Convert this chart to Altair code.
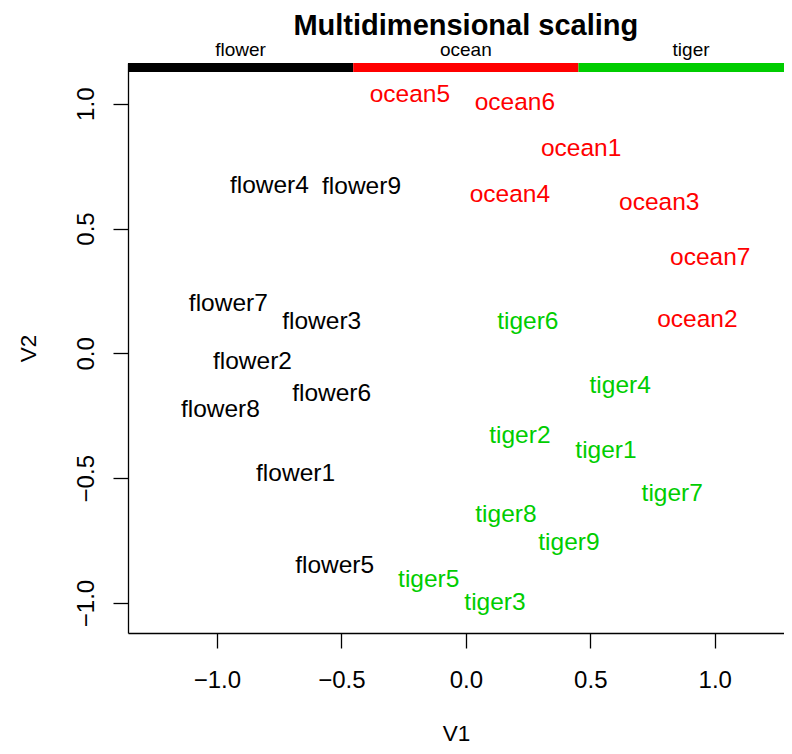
import altair as alt
import pandas as pd

# ---- data ----
labels = ["flower1", "flower2", "flower3", "flower4", "flower5", "flower6", "flower7", "flower8", "flower9",
          "ocean1", "ocean2", "ocean3", "ocean4", "ocean5", "ocean6", "ocean7",
          "tiger1", "tiger2", "tiger3", "tiger4", "tiger5", "tiger6", "tiger7", "tiger8", "tiger9"]
v1 = [-0.684, -0.857, -0.579, -0.789, -0.527, -0.539, -0.954, -0.986, -0.419,
      0.463, 0.930, 0.777, 0.177, -0.225, 0.197, 0.982,
      0.563, 0.217, 0.117, 0.620, -0.149, 0.249, 0.829, 0.161, 0.414]
v2 = [-0.480, -0.032, 0.129, 0.673, -0.846, -0.157, 0.202, -0.222, 0.669,
      0.823, 0.137, 0.605, 0.637, 1.040, 1.008, 0.387,
      -0.387, -0.327, -0.994, -0.125, -0.905, 0.129, -0.560, -0.645, -0.755]
groups = ["flower"] * 9 + ["ocean"] * 7 + ["tiger"] * 9

group_names = ["flower", "ocean", "tiger"]
group_colors = ["#000000", "#FF0000", "#00CD00"]

title_text = ["Multidimensional scaling"]

full_x_range = [-1.357, 1.357]      # full plot region of the original (right part cut off)
x_domain = [-1.357, 1.278]          # visible part
y_domain = [-1.120, 1.163]
ticks = [-1.0, -0.5, 0.0, 0.5, 1.0]

df = pd.DataFrame({"label": labels, "V1": v1, "V2": v2, "group": groups})

span = (full_x_range[1] - full_x_range[0]) / len(group_names)
bar_df = pd.DataFrame({
    "group": group_names,
    "start": [full_x_range[0] + i * span for i in range(len(group_names))],
    "end": [full_x_range[0] + (i + 1) * span for i in range(len(group_names))],
})
bar_df["mid"] = (bar_df["start"] + bar_df["end"]) / 2

title_df = pd.DataFrame({"title": title_text, "xc": [sum(full_x_range) / 2]})

FONT = "Liberation Sans"
minus_expr = "replace(format(datum.value, '.1f'), '-', '\u2212')"

color = alt.Color("group:N", scale=alt.Scale(domain=group_names, range=group_colors), legend=None)

xscale = alt.Scale(domain=x_domain, nice=False, zero=False)
yscale = alt.Scale(domain=y_domain, nice=False, zero=False)

points = alt.Chart(df).mark_text(font=FONT, fontSize=24.5, baseline="middle", dy=1).encode(
    x=alt.X("V1:Q", scale=xscale, title="V1",
            axis=alt.Axis(values=ticks, labelExpr=minus_expr, grid=False, tickSize=15,
                          tickColor="black", domainColor="black", labelColor="black",
                          labelFont=FONT, labelFontSize=24, labelPadding=39,
                          labelBaseline="alphabetic", labelFlush=False,
                          titleFont=FONT, titleFontSize=22.5, titleFontWeight="normal",
                          titleBaseline="alphabetic", titlePadding=48.5, titleColor="black")),
    y=alt.Y("V2:Q", scale=yscale, title="V2",
            axis=alt.Axis(values=ticks, labelExpr=minus_expr, grid=False, tickSize=15,
                          tickColor="black", domainColor="black", labelColor="black",
                          labelFont=FONT, labelFontSize=24, labelPadding=20,
                          labelAngle=-90, labelAlign="center", labelBaseline="alphabetic",
                          labelFlush=False,
                          titleFont=FONT, titleFontSize=22.5, titleFontWeight="normal",
                          titlePadding=34, titleColor="black")),
    text="label:N",
    color=color,
)

bar = alt.Chart(bar_df).mark_rect().encode(
    x=alt.X("start:Q", scale=xscale),
    x2="end:Q",
    y=alt.value(0),
    y2=alt.value(9),
    color=color,
)

bar_text = alt.Chart(bar_df).mark_text(font=FONT, fontSize=19, color="black", baseline="alphabetic").encode(
    x=alt.X("mid:Q", scale=xscale),
    y=alt.value(-7),
    text="group:N",
)

title = alt.Chart(title_df).mark_text(font=FONT, fontSize=29, fontWeight="bold", color="black",
                                      baseline="alphabetic").encode(
    x=alt.X("xc:Q", scale=xscale),
    y=alt.value(-28),
    text="title:N",
)

chart = alt.layer(bar, bar_text, title, points).properties(
    width=656, height=570,
    autosize="none",
    padding={"left": 120, "top": 55, "right": 0, "bottom": 113},
).configure_view(stroke=None).configure_axis(domainWidth=1.3, tickWidth=1.3)

chart.save("out.html", embed_options={"renderer": "svg", "actions": False})
